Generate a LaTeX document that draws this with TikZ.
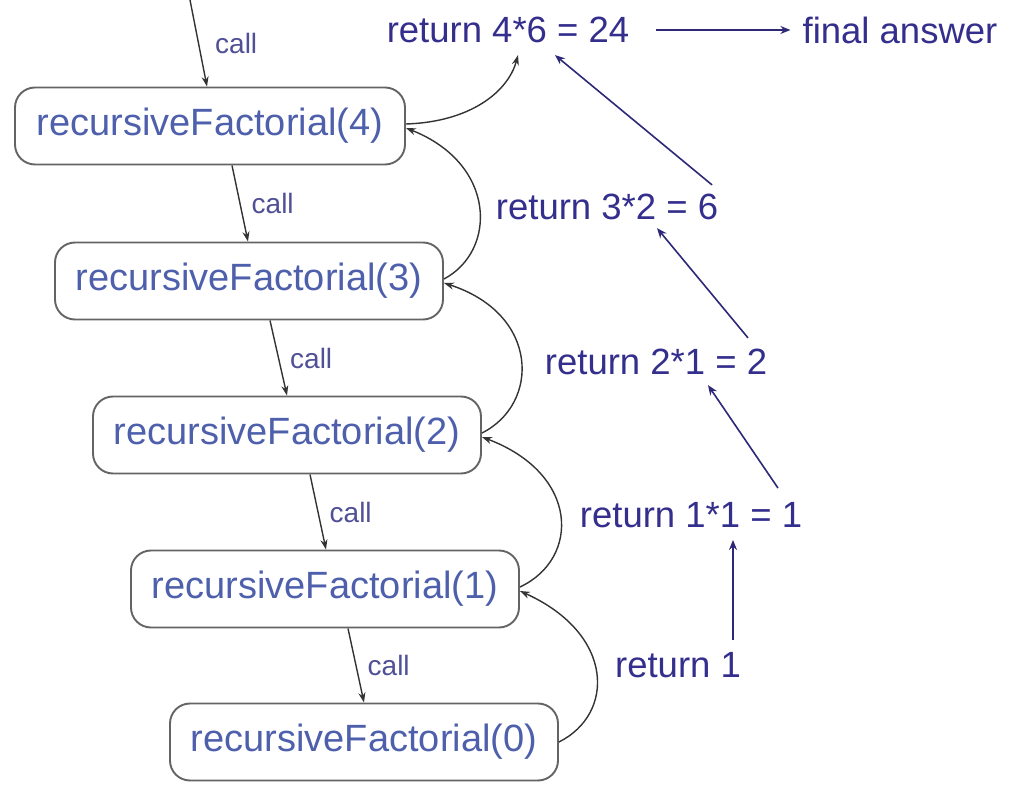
\documentclass[tikz,border=0pt]{standalone}
\usepackage{fontspec}
\setmainfont{Liberation Sans}
\usetikzlibrary{arrows.meta}
\definecolor{boxtext}{RGB}{78,96,172}
\definecolor{rettext}{RGB}{52,46,140}
\definecolor{calltext}{RGB}{80,80,150}
\definecolor{retline}{RGB}{45,40,120}
\definecolor{boxline}{RGB}{100,100,100}
\begin{document}
\begin{tikzpicture}[x=1pt,y=1pt,
  fbox/.style={draw=boxline, line width=1.9pt, rounded corners=20pt,
    minimum width=388pt, minimum height=77pt, inner sep=0pt,
    text=boxtext, font=\fontsize{38}{40}\selectfont},
  ret/.style={inner sep=0pt, text=rettext, font=\fontsize{36.5}{38}\selectfont},
  calllab/.style={inner sep=0pt, text=calltext, font=\fontsize{28}{30}\selectfont},
  callarrow/.style={draw=black!80, line width=1.4pt, -{Stealth[length=10pt,width=7pt]}},
  retcurve/.style={draw=black!80, line width=1.4pt, -{Stealth[length=10pt,width=7pt]}},
  retarrow/.style={draw=retline, line width=1.6pt, -{Stealth[length=10pt,width=8pt]}}
]
\useasboundingbox (0,0) rectangle (1020,804);
\fill[white] (0,0) rectangle (1020,804);

% boxes
\node[fbox, minimum width=390pt] (b4) at (210,678) {recursiveFactorial(4)};
\node[fbox] (b3) at (249,523) {recursiveFactorial(3)};
\node[fbox] (b2) at (287,369) {recursiveFactorial(2)};
\node[fbox] (b1) at (325,215) {recursiveFactorial(1)};
\node[fbox] (b0) at (364,62) {recursiveFactorial(0)};

% return labels
\node[ret] (r24) at (508,774) {return 4*6 = 24};
\node[ret] (fin) at (900,774) {final answer};
\node[ret] (r6) at (607,597) {return 3*2 = 6};
\node[ret] (r2) at (656,442) {return 2*1 = 2};
\node[ret] (r11) at (691,289) {return 1*1 = 1};
\node[ret] (r1) at (678,139) {return 1};

% call arrows
\coordinate (top) at (190,804);
\draw[callarrow] (top) -- ([xshift=-3pt]b4.north) node[calllab, midway, right=16pt] {call};
\draw[callarrow] ([xshift=22pt]b4.south) -- ([xshift=-1pt]b3.north) node[calllab, midway, right=11pt] {call};
\draw[callarrow] ([xshift=21pt]b3.south) -- ([xshift=0pt]b2.north) node[calllab, midway, right=11pt] {call};
\draw[callarrow] ([xshift=23pt]b2.south) -- ([xshift=1pt]b1.north) node[calllab, midway, right=11pt] {call};
\draw[callarrow] ([xshift=23pt]b1.south) -- ([xshift=0pt]b0.north) node[calllab, midway, right=11pt] {call};

% return curves
\draw[retcurve] (b0.east) .. controls (615,90) and (615,170) .. ([yshift=-2pt]b1.east);
\draw[retcurve] ([yshift=2pt]b1.east) .. controls (580,245) and (580,330) .. ([yshift=-2pt]b2.east);
\draw[retcurve] ([yshift=2pt]b2.east) .. controls (540,400) and (540,490) .. ([yshift=-2pt]b3.east);
\draw[retcurve] ([yshift=2pt]b3.east) .. controls (497,553) and (497,640) .. ([yshift=-2pt]b4.east);
\draw[retcurve] ([yshift=2pt]b4.east) .. controls (470,682) and (508,712) .. ([xshift=10pt,yshift=-12pt]r24.south);

% return arrows
\draw[retarrow] ([xshift=55pt,yshift=12pt]r1.north) -- ([xshift=42pt,yshift=-12pt]r11.south);
\draw[retarrow] ([xshift=87pt,yshift=14pt]r11.north) -- ([xshift=52pt,yshift=-10pt]r2.south);
\draw[retarrow] ([xshift=92pt,yshift=11pt]r2.north) -- ([xshift=50pt,yshift=-8pt]r6.south);
\draw[retarrow] ([xshift=105pt,yshift=9pt]r6.north) -- ([xshift=47pt,yshift=-12pt]r24.south);
\draw[retarrow] ([xshift=27pt]r24.east) -- ([xshift=-12pt]fin.west);
\end{tikzpicture}
\end{document}
